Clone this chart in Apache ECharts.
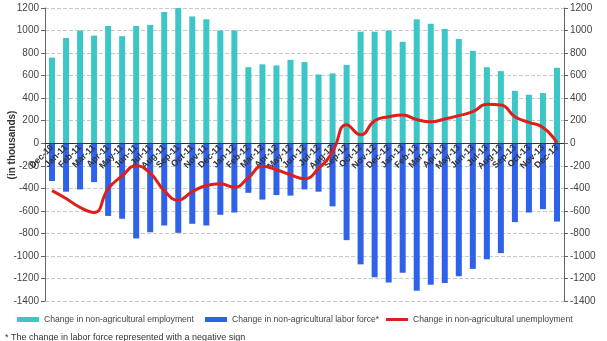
<!DOCTYPE html>
<html>
<head>
<meta charset="utf-8">
<script src="https://cdn.jsdelivr.net/npm/echarts@6/dist/echarts.min.js"></script>
<style>
html,body{margin:0;padding:0;background:#fff;}
#c{width:607px;height:341px;}
</style>
</head>
<body>
<div id="c"></div>
<script>
const categories = ['Dec-10','Jan-11','Feb-11','Mar-11','Apr-11','May-11','Jun-11','Jul-11','Aug-11','Sep-11','Oct-11','Nov-11','Dec-11',
'Jan-12','Feb-12','Mar-12','Apr-12','May-12','Jun-12','Jul-12','Aug-12','Sep-12','Oct-12','Nov-12','Dec-12',
'Jan-13','Feb-13','Mar-13','Apr-13','May-13','Jun-13','Jul-13','Aug-13','Sep-13','Oct-13','Nov-13','Dec-13'];
const employment = [760,935,1000,955,1040,950,1040,1050,1165,1200,1125,1100,1000,
1000,675,700,690,740,720,610,620,695,990,990,1000,
900,1100,1060,1015,925,820,675,640,465,430,445,670];
const laborForce = [-335,-430,-410,-345,-645,-670,-845,-790,-730,-795,-715,-730,-635,
-615,-440,-500,-460,-465,-410,-430,-560,-860,-1075,-1190,-1235,
-1150,-1310,-1255,-1240,-1180,-1115,-1030,-975,-700,-615,-585,-695];
const unemployment = [-420,-490,-570,-615,-405,-290,-200,-265,-420,-505,-430,-375,-360,
-390,-305,-205,-235,-280,-315,-225,-75,165,75,200,235,
250,210,190,215,245,280,345,340,235,185,140,5];
const seriesNames = ['Change in non-agricultural employment','Change in non-agricultural labor force*','Change in non-agricultural unemployment'];
const yTitle = '(in thousands)';
const footnote = '* The change in labor force represented with a negative sign';

const Y_MIN = -1400, Y_MAX = 1200;
const GRID_TOP = 8, GRID_BOTTOM = 40, H = 341;
const plotH = H - GRID_TOP - GRID_BOTTOM;
const zeroOffset = -(plotH * (0 - Y_MIN) / (Y_MAX - Y_MIN));

const chart = echarts.init(document.getElementById('c'));
const yCommon = {
  type:'value', min:Y_MIN, max:Y_MAX, interval:200,
  axisLine:{show:true, lineStyle:{color:'#666', width:1}},
  axisTick:{show:true, length:4, lineStyle:{color:'#666'}},
  axisLabel:{fontSize:10, color:'#444', fontFamily:'Liberation Sans, Arial', margin:6, formatter:function(v){return String(v);}}
};
const legendText = {fontSize:8.6, color:'#444', fontFamily:'Liberation Sans, Arial'};
chart.setOption({
  animation:false,
  grid:{left:45, right:43, top:GRID_TOP, bottom:GRID_BOTTOM, containLabel:false},
  legend:[
    {data:[seriesNames[0]], left:17, top:315, itemWidth:22, itemHeight:5, padding:0, textStyle:legendText, icon:'rect'},
    {data:[seriesNames[1]], left:205, top:315, itemWidth:22, itemHeight:5, padding:0, textStyle:legendText, icon:'rect'},
    {data:[seriesNames[2]], left:386, top:315, itemWidth:22, itemHeight:3, padding:0, textStyle:legendText, icon:'rect'}
  ],
  xAxis:{
    type:'category', data:categories, position:'bottom', offset:zeroOffset,
    axisLine:{onZero:false, lineStyle:{color:'#333', width:1}},
    axisTick:{show:false},
    axisLabel:{interval:0, rotate:45, fontSize:9, fontWeight:'bold', color:'#333', margin:3, fontFamily:'Liberation Sans, Arial'},
    z:5
  },
  yAxis:[
    Object.assign({}, yCommon, {position:'left', splitLine:{show:true, lineStyle:{color:'#c8c8c8', type:'dashed', width:1}}}),
    Object.assign({}, yCommon, {position:'right', splitLine:{show:false}})
  ],
  series:[
    {name:seriesNames[0], type:'bar', data:employment, barWidth:6, itemStyle:{color:'#3CC6C8'}},
    {name:seriesNames[1], type:'bar', data:laborForce, barWidth:6, barGap:'-100%', itemStyle:{color:'#2F62EA'}},
    {name:seriesNames[2], type:'line', data:unemployment, smooth:0.5, symbol:'none', lineStyle:{color:'#E01E1A', width:3}, itemStyle:{color:'#E01E1A'}, z:10}
  ],
  graphic:[
    {type:'text', x:12, y:145, rotation:Math.PI/2, style:{text:yTitle, fontSize:10, fontWeight:'bold', fill:'#333', fontFamily:'Liberation Sans, Arial', textAlign:'center', textVerticalAlign:'middle'}},
    {type:'text', x:5, y:333, style:{text:footnote, fontSize:9, fill:'#333', fontFamily:'Liberation Sans, Arial'}}
  ]
});
</script>
</body>
</html>
